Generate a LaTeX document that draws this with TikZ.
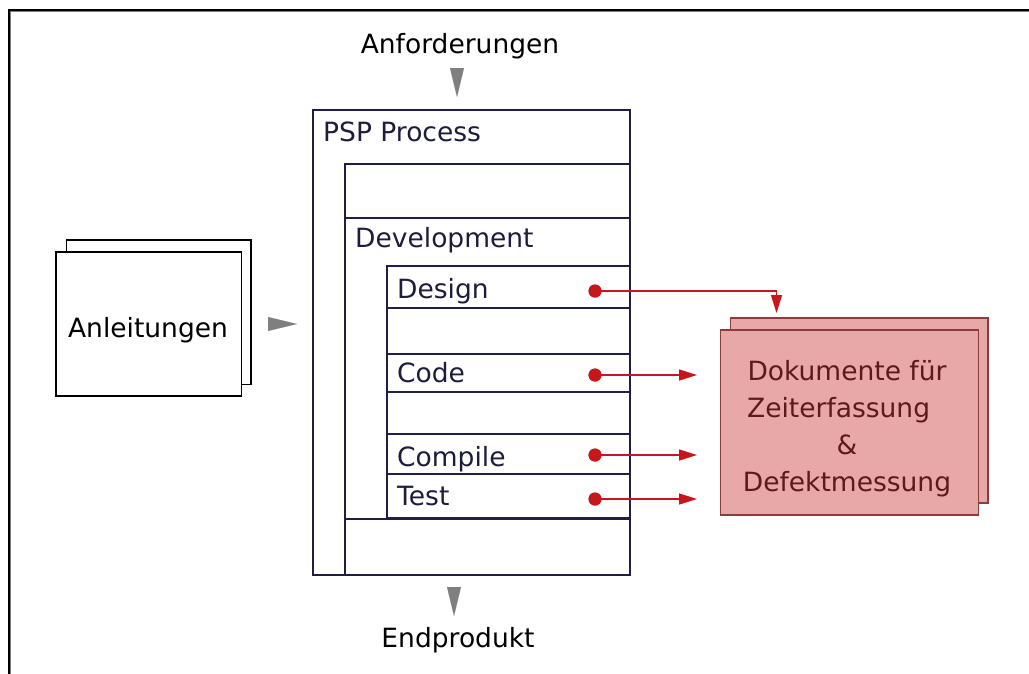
\documentclass[tikz,border=0pt]{standalone}
\usepackage{fontspec}
\setmainfont{DejaVu Sans}
\usetikzlibrary{arrows.meta}
\definecolor{navy}{HTML}{1E1E46}
\definecolor{navytext}{HTML}{1C1C3C}
\definecolor{redline}{HTML}{C8161D}
\definecolor{pinkfill}{HTML}{E8A8A8}
\definecolor{pinkedge}{HTML}{8C3C3C}
\definecolor{pinktext}{HTML}{5C1A1A}
\definecolor{tipgrey}{HTML}{7F7F7F}
\tikzset{
  txt/.style={inner sep=0pt, font=\fontsize{26.5}{37}\selectfont},
  lbl/.style={txt, text=navytext, anchor=base west},
  cell/.style={draw=navy, line width=1.8pt, fill=white, inner sep=0pt, outer sep=0pt},
  sheet/.style={draw=black, line width=1.6pt, fill=white},
  pinksheet/.style={draw=pinkedge, line width=1.2pt, fill=pinkfill},
  greytip/.style={draw=tipgrey, line width=0.1pt, -{Triangle[length=29pt,width=14pt]}, tipgrey},
  redarrow/.style={draw=redline, line width=1.5pt, -{Triangle[length=18pt,width=11pt]}},
  dot/.style={circle, fill=redline, inner sep=0pt, minimum size=13pt},
}
\begin{document}
\begin{tikzpicture}[x=1pt,y=-1pt]
\useasboundingbox (0,0) rectangle (1029,673);
\fill[white] (0,0) rectangle (1029,673);
% frame with soft inner edge
\draw[tipgrey, line width=1.2pt] (1035,11.8) -- (10.8,11.8) -- (10.8,680);
\draw[black, line width=2.4pt] (1035,9.8) -- (8.8,9.8) -- (8.8,680);

% top and bottom labels
\node[txt, anchor=base] (anf) at (460,53) {Anforderungen};
\node[txt, anchor=base] (end) at (458,647) {Endprodukt};

% PSP process nesting
\node[cell, minimum width=317pt, minimum height=465pt] (psp) at (471.5,342.5) {};
\node[cell, minimum width=285pt, minimum height=54pt] (blank0) at (487.5,191) {};
\node[cell, minimum width=285pt, minimum height=301pt] (dev) at (487.5,368.5) {};
\node[cell, minimum width=285pt, minimum height=56pt] (blank9) at (487.5,547) {};
\node[cell, minimum width=243pt, minimum height=42pt] (design) at (508.5,287) {};
\node[cell, minimum width=243pt, minimum height=46pt] (blank1) at (508.5,331) {};
\node[cell, minimum width=243pt, minimum height=38pt] (code) at (508.5,373) {};
\node[cell, minimum width=243pt, minimum height=42pt] (blank2) at (508.5,413) {};
\node[cell, minimum width=243pt, minimum height=40pt] (compile) at (508.5,454) {};
\node[cell, minimum width=243pt, minimum height=44pt] (test) at (508.5,496) {};

\node[lbl] (tPsp) at (323,141) {PSP Process};
\node[lbl] (tDev) at (355,247) {Development};
\node[lbl] (tDesign) at (397,298) {Design};
\node[lbl] (tCode) at (397,382) {Code};
\node[lbl] (tCompile) at (397,466) {Compile};
\node[lbl] (tTest) at (397,505) {Test};

% guidelines sheets
\draw[sheet] (66.5,240) rectangle (251,384.5);
\node[sheet, minimum width=185.5pt, minimum height=143.5pt, inner sep=0pt] (guide) at (148.8,324) {};
\node[txt, text=black, anchor=base] (tGuide) at (148,337) {Anleitungen};

% measurement documents
\draw[pinksheet] (730.5,318) rectangle (988,503);
\node[pinksheet, minimum width=257.5pt, minimum height=185pt, inner sep=0pt] (docs) at (849.5,422.5) {};
\node[txt, text=pinktext, align=center] (tDocs) at (847,429)
  {Dokumente für\\Zeiterfassung\phantom{n}\\\&\\Defektmessung};

% grey inputs/outputs
\coordinate (inTopA) at (457,68);
\coordinate (inTopB) at (457,97);
\draw[greytip] (inTopA) -- (inTopB);
\coordinate (inLeftA) at (268,324);
\coordinate (inLeftB) at (297,324);
\draw[greytip] (inLeftA) -- (inLeftB);
\coordinate (outA) at (454,587);
\coordinate (outB) at (454,616);
\draw[greytip] (outA) -- (outB);

% red recording arrows
\node[dot] (dDesign) at (595,291) {};
\node[dot] (dCode) at (595,375) {};
\node[dot] (dCompile) at (595,455) {};
\node[dot] (dTest) at (595,499) {};
\coordinate (eDesign) at (776.5,313);
\coordinate (eCode) at (697,375);
\coordinate (eCompile) at (697,455);
\coordinate (eTest) at (697,499);
\draw[redarrow] (dDesign.center) -| (eDesign);
\draw[redarrow] (dCode.center) -- (eCode);
\draw[redarrow] (dCompile.center) -- (eCompile);
\draw[redarrow] (dTest.center) -- (eTest);
\node[dot] at (dDesign) {};
\node[dot] at (dCode) {};
\node[dot] at (dCompile) {};
\node[dot] at (dTest) {};
\end{tikzpicture}
\end{document}
